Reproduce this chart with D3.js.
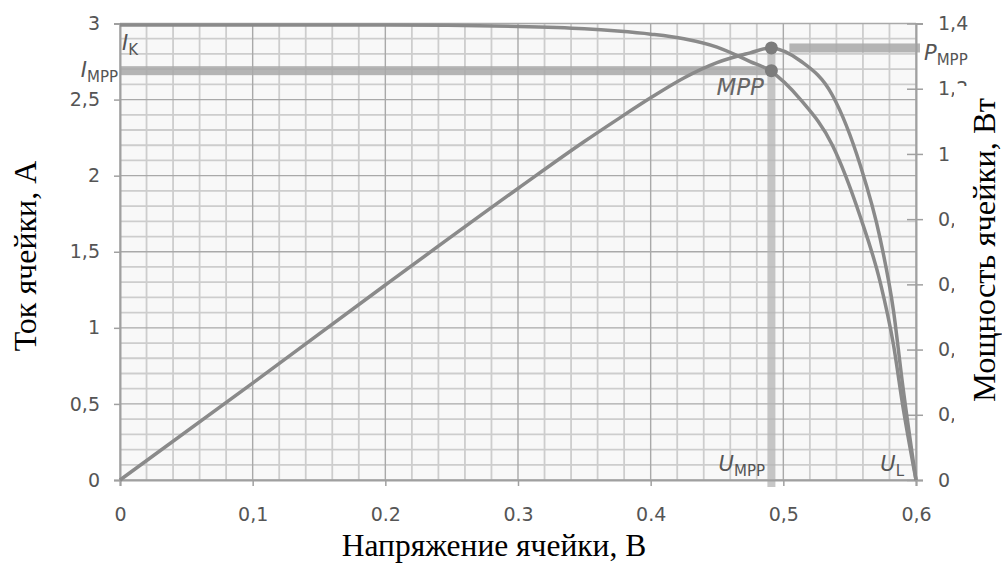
<!DOCTYPE html>
<html>
<head>
<meta charset="utf-8">
<script src="https://cdn.jsdelivr.net/npm/d3@7"></script>
<style>
  body { margin: 0; background: #fff; }
  svg { display: block; }
</style>
</head>
<body>
<script>
// values
const voltage = [0, 0.1, 0.2, 0.3, 0.35, 0.375, 0.4, 0.425, 0.45, 0.475, 0.49, 0.513, 0.537, 0.558, 0.573, 0.583, 0.59, 0.6];
const current = [2.99, 2.99, 2.99, 2.98, 2.965, 2.95, 2.93, 2.9, 2.845, 2.75, 2.69, 2.5, 2.2, 1.73, 1.3, 0.89, 0.49, 0];
const power   = [0, 0.297, 0.598, 0.894, 1.038, 1.106, 1.172, 1.233, 1.28, 1.31, 1.325, 1.285, 1.18, 0.965, 0.74, 0.52, 0.29, 0];

const uMpp = 0.491, iMpp = 2.69, pMpp = 1.325;

const xTicks = [0, 0.1, 0.2, 0.3, 0.4, 0.5, 0.6];
const xTickLabels = ["0", "0,1", "0.2", "0.3", "0.4", "0,5", "0,6"];
const iTicks = [0, 0.5, 1, 1.5, 2, 2.5, 3];
const iTickLabels = ["0", "0,5", "1", "1,5", "2", "2,5", "3"];
const pTicks = [0, 0.2, 0.4, 0.6, 0.8, 1, 1.2, 1.4];
const pTickLabels = ["0", "0,2", "0,4", "0,6", "0,8", "1", "1,2", "1,4"];

const W = 1002, H = 563;
const plotL = 120, plotR = 916, plotT = 23.5, plotB = 480;

const svg = d3.select("body").append("svg")
    .attr("width", W).attr("height", H)
    .style("background", "#fff");

const x = d3.scaleLinear().domain([0, 0.6]).range([plotL, plotR]);
const yI = d3.scaleLinear().domain([0, 3]).range([plotB, plotT]);
const yP = d3.scaleLinear().domain([0, 1.4]).range([plotB, plotT]);

// plot background
svg.append("rect")
    .attr("x", plotL).attr("y", plotT)
    .attr("width", plotR - plotL).attr("height", plotB - plotT)
    .attr("fill", "#f8f8f8");

// grid
const grid = svg.append("g");
const near = (a, b) => Math.abs(a - b) < 1e-6;
const isMajorX = v => xTicks.some(t => near(t, v));
const isMajorY = v => iTicks.some(t => near(t, v));

grid.selectAll(".vminor")
  .data(x.ticks(30).filter(v => !isMajorX(v)))
  .join("line")
    .attr("x1", d => x(d)).attr("x2", d => x(d))
    .attr("y1", plotT).attr("y2", plotB)
    .attr("stroke", "#cdcdcd").attr("stroke-width", 1.8);

grid.selectAll(".hminor")
  .data(yI.ticks(30).filter(v => !isMajorY(v)))
  .join("line")
    .attr("x1", plotL).attr("x2", plotR)
    .attr("y1", d => yI(d)).attr("y2", d => yI(d))
    .attr("stroke", "#cdcdcd").attr("stroke-width", 1.8);

grid.selectAll(".vmajor")
  .data(xTicks)
  .join("line")
    .attr("x1", d => x(d)).attr("x2", d => x(d))
    .attr("y1", plotT).attr("y2", plotB)
    .attr("stroke", "#a9a9a9").attr("stroke-width", 1.4);

grid.selectAll(".hmajor")
  .data(iTicks)
  .join("line")
    .attr("x1", plotL).attr("x2", plotR)
    .attr("y1", d => yI(d)).attr("y2", d => yI(d))
    .attr("stroke", "#a9a9a9").attr("stroke-width", 1.4);

// MPP guide bands
svg.append("rect")
    .attr("x", plotL).attr("y", yI(iMpp) - 4.5)
    .attr("width", x(uMpp) - plotL).attr("height", 9)
    .attr("fill", "#a8a8a8").attr("opacity", 0.85);

svg.append("rect")
    .attr("x", x(uMpp) - 4).attr("y", yP(pMpp))
    .attr("width", 8).attr("height", plotB + 7 - yP(pMpp))
    .attr("fill", "#b4b4b4").attr("opacity", 0.75);

svg.append("rect")
    .attr("x", x(uMpp) + 18).attr("y", yP(pMpp) - 4.5)
    .attr("width", plotR + 4 - x(uMpp) - 18).attr("height", 9)
    .attr("fill", "#a8a8a8").attr("opacity", 0.85);

// axes
const tickFont = "'DejaVu Sans', Verdana, sans-serif";

const axL = svg.append("g")
    .attr("transform", `translate(${plotL},0)`)
    .call(d3.axisLeft(yI).tickValues(iTicks)
      .tickFormat((d, i) => iTickLabels[i]).tickSize(6).tickPadding(14));

const axB = svg.append("g")
    .attr("transform", `translate(0,${plotB})`)
    .call(d3.axisBottom(x).tickValues(xTicks)
      .tickFormat((d, i) => xTickLabels[i]).tickSize(6).tickPadding(22));

const axR = svg.append("g")
    .attr("transform", `translate(${plotR},0)`)
    .call(d3.axisRight(yP).tickValues(pTicks)
      .tickFormat((d, i) => pTickLabels[i]).tickSize(7).tickPadding(15));
axR.selectAll(".tick line").attr("x1", -9);
axR.selectAll(".tick text").attr("x", 22);

[axL, axB, axR].forEach(a => {
  a.select(".domain").attr("stroke", "#a0a0a0").attr("stroke-width", 2);
  a.selectAll(".tick line").attr("stroke", "#a0a0a0").attr("stroke-width", 1.5);
  a.selectAll(".tick text")
    .attr("fill", "#555").attr("font-size", 19)
    .attr("font-family", tickFont);
});

// curves
const line = yScale => d3.line()
    .x((d, i) => x(voltage[i]))
    .y(d => yScale(d))
    .curve(d3.curveMonotoneX);

svg.append("path")
    .datum(power)
    .attr("d", line(yP))
    .attr("fill", "none").attr("stroke", "#8a8a8a").attr("stroke-width", 3.5);

svg.append("path")
    .datum(current)
    .attr("d", line(yI))
    .attr("fill", "none").attr("stroke", "#8a8a8a").attr("stroke-width", 3.5);

// MPP points
svg.append("circle").attr("cx", x(uMpp)).attr("cy", yP(pMpp)).attr("r", 6.5).attr("fill", "#7c7c7c");
svg.append("circle").attr("cx", x(uMpp)).attr("cy", yI(iMpp)).attr("r", 6.5).attr("fill", "#7c7c7c");

// annotations
function subLabel(px, py, main, sub, anchor) {
  const t = svg.append("text")
      .attr("x", px).attr("y", py)
      .attr("text-anchor", anchor || "start")
      .attr("fill", "#555")
      .attr("font-family", tickFont);
  t.append("tspan").attr("font-style", "italic").attr("font-size", 21).text(main);
  t.append("tspan").attr("font-size", 15).attr("dy", 5).text(sub);
}

subLabel(122, 50, "I", "K");
subLabel(118, 77, "I", "MPP", "end");
subLabel(924, 60, "P", "MPP");
subLabel(765, 471, "U", "MPP", "end");
subLabel(904, 471, "U", "L", "end");

svg.append("text")
    .attr("x", 764).attr("y", 95)
    .attr("text-anchor", "end")
    .attr("fill", "#666").attr("font-style", "italic")
    .attr("font-size", 23).attr("font-family", tickFont)
    .text("MPP");

// axis titles
const titleFont = "'Liberation Serif', 'Times New Roman', serif";

svg.append("text")
    .attr("x", 494).attr("y", 556)
    .attr("text-anchor", "middle")
    .attr("font-size", 31.5).attr("font-family", titleFont)
    .text("Напряжение ячейки, В");

svg.append("text")
    .attr("transform", "translate(36,256) rotate(-90)")
    .attr("text-anchor", "middle")
    .attr("font-size", 32).attr("font-family", titleFont)
    .text("Ток ячейки, А");

svg.append("rect")
    .attr("x", 954).attr("y", 86)
    .attr("width", W - 954).attr("height", 338)
    .attr("fill", "#fff");

svg.append("text")
    .attr("transform", "translate(995,250) rotate(-90)")
    .attr("text-anchor", "middle")
    .attr("font-size", 32.5).attr("font-family", titleFont)
    .text("Мощность ячейки, Вт");
</script>
</body>
</html>
